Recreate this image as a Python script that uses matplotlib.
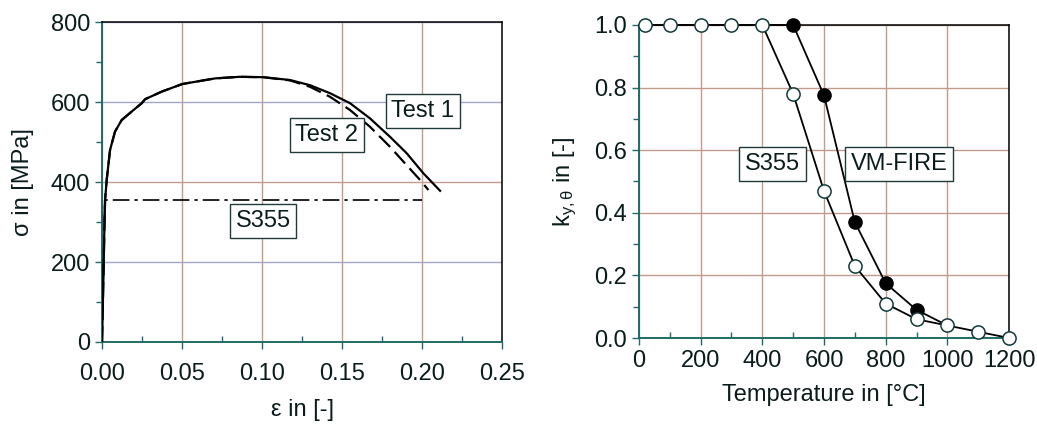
import matplotlib.pyplot as plt
from matplotlib.ticker import MultipleLocator, FormatStrFormatter

plt.rcParams["font.family"] = ["Liberation Sans", "DejaVu Sans"]
plt.rcParams["mathtext.fontset"] = "custom"
plt.rcParams["mathtext.rm"] = "Liberation Sans"
plt.rcParams["mathtext.it"] = "Liberation Sans"

# ---------------------------------------------------------------- daten links
# Spannungs-Dehnungs-Kurven (eps [-], sigma [MPa])
eps_test1 = [0.0, 0.0008, 0.0015, 0.0019, 0.0029, 0.005, 0.0081, 0.0123, 0.0185,
             0.0248, 0.0269, 0.0373, 0.0502, 0.0706, 0.086, 0.1008, 0.1175,
             0.13, 0.1425, 0.155, 0.1675, 0.18, 0.1904, 0.2008, 0.2113]
sig_test1 = [0, 150, 290, 355, 405, 480, 526, 555, 576,
             597, 607, 626, 645, 659, 663, 662, 655,
             642, 622, 597, 559, 513, 472, 422, 378]
eps_test2 = [0.0, 0.0008, 0.0015, 0.0019, 0.0029, 0.005, 0.0081, 0.0123, 0.0185,
             0.0248, 0.0269, 0.0373, 0.0502, 0.0706, 0.086, 0.1008, 0.1175,
             0.13, 0.1425, 0.155, 0.1675, 0.18, 0.1904, 0.1988, 0.204]
sig_test2 = [0, 150, 290, 355, 405, 480, 526, 555, 576,
             597, 607, 626, 645, 659, 663, 662, 654,
             638, 613, 580, 538, 488, 442, 405, 380]
eps_s355 = [0.0, 0.0017, 0.2]
sig_s355 = [0, 355, 355]

# ---------------------------------------------------------------- daten rechts
# Abminderungsfaktor k_y,theta über Temperatur
temp_s355 = [20, 100, 200, 300, 400, 500, 600, 700, 800, 900, 1000, 1100, 1200]
k_s355 = [1.0, 1.0, 1.0, 1.0, 1.0, 0.78, 0.47, 0.23, 0.11, 0.06, 0.04, 0.02, 0.0]
temp_vm = [400, 500, 600, 700, 800, 900, 1000]
k_vm = [1.0, 1.0, 0.775, 0.37, 0.175, 0.09, 0.04]

TEXT = "#0b1c1c"
TEAL = "#1f6b69"
ROSY = "#c49a8e"
LAV = "#a4a4c8"
FS = 17

fig = plt.figure(figsize=(10.37, 4.25), dpi=100)
ax1 = fig.add_axes([0.0984, 0.1953, 0.3857, 0.7529])
ax2 = fig.add_axes([0.6162, 0.2047, 0.3568, 0.7365])


def rahmen(ax):
    for s in ("top", "right"):
        ax.spines[s].set_color("black")
        ax.spines[s].set_linewidth(1.1)
    for s in ("left", "bottom"):
        ax.spines[s].set_color(TEAL)
        ax.spines[s].set_linewidth(1.4)
    ax.tick_params(which="both", colors=TEAL, labelcolor=TEXT, labelsize=FS)
    ax.tick_params(which="major", length=5, width=1)
    ax.tick_params(axis="x", which="minor", direction="in", length=4, width=1)
    ax.tick_params(axis="y", which="minor", direction="out", length=4, width=1)
    ax.set_axisbelow(True)


def kasten(ax, x, y, txt):
    ax.text(x, y, txt, fontsize=FS, color=TEXT, ha="center", va="center",
            bbox=dict(boxstyle="square,pad=0.25", fc="white", ec="#203a3a", lw=1))


# ------------------------------------------------------------------ links
ax1.plot(eps_test1, sig_test1, color="black", lw=1.6, zorder=3)
ax1.plot(eps_test2, sig_test2, color="black", lw=1.6, ls=(0, (7, 3)), zorder=3)
ax1.plot(eps_s355, sig_s355, color="black", lw=1.2, ls=(0, (10, 3, 2, 3)), zorder=3)
ax1.set_xlim(0, 0.25)
ax1.set_ylim(0, 800)
ax1.xaxis.set_major_locator(MultipleLocator(0.05))
ax1.xaxis.set_minor_locator(MultipleLocator(0.025))
ax1.xaxis.set_major_formatter(FormatStrFormatter("%.2f"))
ax1.yaxis.set_major_locator(MultipleLocator(200))
ax1.yaxis.set_minor_locator(MultipleLocator(100))
ax1.grid(True, which="major", lw=1)
for g in ax1.get_xgridlines():
    g.set_color(ROSY)
for g, v in zip(ax1.get_ygridlines(), ax1.get_yticks()):
    g.set_color(ROSY if v == 400 else LAV)
rahmen(ax1)
ax1.tick_params(axis="x", which="major", pad=10)
ax1.set_xlabel("ε in [-]", fontsize=FS, color=TEXT, labelpad=10)
ax1.set_ylabel("σ in [MPa]", fontsize=FS, color=TEXT, labelpad=12)
kasten(ax1, 0.2006, 577, "Test 1")
kasten(ax1, 0.1406, 518, "Test 2")
kasten(ax1, 0.1006, 303, "S355")

# ------------------------------------------------------------------ rechts
ax2.plot(temp_vm, k_vm, color="black", lw=1.3, marker="o", ms=9.5,
         mfc="black", mec="black", markevery=[1, 2, 3, 4, 5], clip_on=False, zorder=3)
ax2.plot(temp_s355, k_s355, color="black", lw=1.3, marker="o", ms=9.5,
         mfc="white", mec="#123a3a", mew=1.1, clip_on=False, zorder=4)
ax2.set_xlim(0, 1200)
ax2.set_ylim(0, 1.0)
ax2.xaxis.set_major_locator(MultipleLocator(200))
ax2.xaxis.set_minor_locator(MultipleLocator(100))
ax2.yaxis.set_major_locator(MultipleLocator(0.2))
ax2.yaxis.set_minor_locator(MultipleLocator(0.1))
ax2.yaxis.set_major_formatter(FormatStrFormatter("%.1f"))
ax2.grid(True, which="major", lw=1, color=ROSY)
rahmen(ax2)
ax2.set_xlabel("Temperature in [°C]", fontsize=FS, color=TEXT, labelpad=9)
ax2.set_ylabel(r"k$_{\mathrm{y,\theta}}$ in [-]", fontsize=FS, color=TEXT, labelpad=11)
kasten(ax2, 434, 0.556, "S355")
kasten(ax2, 843, 0.556, "VM-FIRE")

fig.savefig("out.png", dpi=100)
